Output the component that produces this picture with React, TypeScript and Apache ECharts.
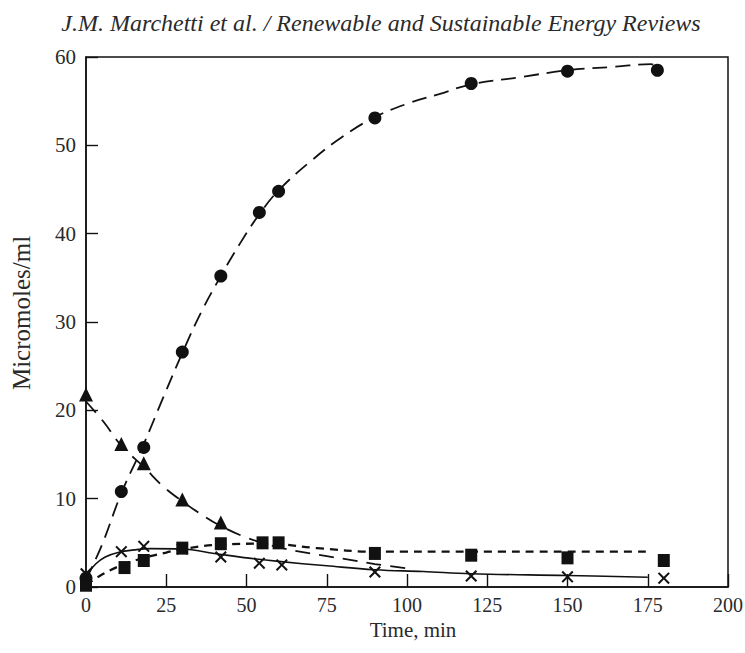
import React, { useEffect, useRef } from "react";
import * as echarts from "echarts";

// Measured points (time in min, micromoles/ml)
const circlePts: [number, number][] = [
  [0, 1.0], [11, 10.8], [18, 15.8], [30, 26.6], [42, 35.2], [54, 42.4],
  [60, 44.8], [90, 53.1], [120, 57.0], [150, 58.4], [178, 58.5],
];
const trianglePts: [number, number][] = [
  [0, 21.8], [11, 16.2], [18, 14.0], [30, 9.9], [42, 7.3],
];
const squarePts: [number, number][] = [
  [0, 0.2], [12, 2.2], [18, 3.0], [30, 4.4], [42, 4.9], [55, 5.0],
  [60, 5.0], [90, 3.8], [120, 3.6], [150, 3.3], [180, 3.0],
];
const crossPts: [number, number][] = [
  [0, 1.5], [11, 4.0], [18, 4.6], [30, 4.3], [42, 3.4], [54, 2.7],
  [61, 2.5], [90, 1.7], [120, 1.25], [150, 1.15], [180, 1.0],
];

// Fitted curves
const circleFit: [number, number][] = [
  [0, 0.8], [5, 4.8], [11, 10.6], [18, 16.2], [24, 21.4], [30, 26.5],
  [36, 31.2], [42, 35.2], [48, 38.9], [54, 42.2], [60, 44.9], [70, 48.2],
  [80, 51.0], [90, 53.2], [100, 54.7], [110, 55.8], [120, 56.9],
  [135, 57.7], [150, 58.5], [165, 58.9], [176, 59.2], [178.5, 58.7],
];
const triangleFit: [number, number][] = [
  [0, 21.0], [5.7, 18.6], [11, 16.0], [18, 13.6], [24, 11.4], [30, 9.7],
  [36, 8.2], [42, 6.9], [50, 5.6], [60, 4.5], [70, 3.8], [80, 3.2],
  [90, 2.6], [100, 2.1],
];
const squareFit: [number, number][] = [
  [0, 0.2], [4, 1.2], [10, 2.3], [18, 3.3], [25, 3.9], [30, 4.3],
  [42, 4.8], [55, 4.9], [60, 4.85], [72, 4.4], [90, 4.0], [120, 4.0],
  [150, 4.0], [176, 4.0],
];
const crossFit: [number, number][] = [
  [0, 1.2], [3, 2.6], [6, 3.4], [10, 3.9], [15, 4.2], [20, 4.35],
  [30, 4.3], [40, 3.8], [50, 3.3], [60, 2.9], [75, 2.4], [90, 1.95],
  [105, 1.75], [120, 1.5], [150, 1.3], [175, 1.1],
];

const xTicks = [0, 25, 50, 75, 100, 125, 150, 175, 200];
const yTicks = [0, 10, 20, 30, 40, 50, 60];

const INK = "#111";
const TXT = "#2a2a2a";
const FONT = "Liberation Serif";
const CROSS =
  "path://M0,1.2 L1.2,0 L5,3.8 L8.8,0 L10,1.2 L6.2,5 L10,8.8 L8.8,10 L5,6.2 L1.2,10 L0,8.8 L3.8,5 Z";

export default function App() {
  const ref = useRef<HTMLDivElement>(null);
  useEffect(() => {
    if (!ref.current) return;
    const chart = echarts.init(ref.current, undefined, { renderer: "svg" });
    const fitLine = (data: [number, number][], type: any, width = 1.8) => ({
      type: "line",
      data,
      smooth: 0.4,
      showSymbol: false,
      symbol: "none",
      silent: true,
      lineStyle: { color: INK, width, type },
      z: 2,
    });
    const marks = (data: [number, number][], symbol: string, size: any) => ({
      type: "scatter",
      data,
      symbol,
      symbolSize: size,
      itemStyle: { color: INK, opacity: 1 },
      z: 3,
    });
    chart.setOption({
      animation: false,
      backgroundColor: "#fff",
      graphic: [
        {
          type: "text",
          x: 381,
          y: 11,
          style: {
            text: "J.M. Marchetti et al. / Renewable and Sustainable Energy Reviews",
            font: `italic 24px "${FONT}"`,
            fill: TXT,
            align: "center",
          },
        },
        {
          type: "text",
          x: 21,
          y: 313,
          rotation: Math.PI / 2,
          style: {
            text: "Micromoles/ml",
            font: `25px "${FONT}"`,
            fill: TXT,
            align: "center",
            verticalAlign: "middle",
          },
        },
      ],
      grid: {
        left: 86,
        right: 17,
        top: 57,
        bottom: 66,
        show: true,
        borderColor: INK,
        borderWidth: 1.5,
        backgroundColor: "transparent",
        outerBoundsMode: "none",
      },
      xAxis: {
        type: "value",
        min: xTicks[0],
        max: xTicks[xTicks.length - 1],
        interval: 25,
        name: "Time, min",
        nameLocation: "middle",
        nameGap: 32,
        nameTextStyle: { fontFamily: FONT, fontSize: 21, color: TXT, padding: [0, 0, 0, 12] },
        axisLine: { show: true, lineStyle: { color: INK, width: 1.5 } },
        axisTick: { show: true, inside: true, length: 13, lineStyle: { color: INK, width: 1.4 } },
        axisLabel: {
          fontFamily: FONT,
          fontSize: 20,
          color: TXT,
          margin: 8,
          overflow: "none",
          showMaxLabel: true,
        },
        splitLine: { show: false },
      },
      yAxis: {
        type: "value",
        min: yTicks[0],
        max: yTicks[yTicks.length - 1],
        interval: 10,
        axisLine: { show: true, lineStyle: { color: INK, width: 1.5 } },
        axisTick: { show: true, inside: true, length: 12, lineStyle: { color: INK, width: 1.4 } },
        axisLabel: { fontFamily: FONT, fontSize: 21, color: TXT, margin: 10 },
        splitLine: { show: false },
      },
      series: [
        fitLine(circleFit, [15, 8]),
        fitLine(triangleFit, [15, 9]),
        fitLine(squareFit, [8, 6], 2.3),
        fitLine(crossFit, "solid", 1.6),
        marks(circlePts, "circle", 13),
        marks(trianglePts, "triangle", 14),
        marks(squarePts, "rect", [12, 13]),
        marks(crossPts, CROSS, 12),
      ],
    });
    return () => chart.dispose();
  }, []);
  return (
    <div
      ref={ref}
      style={{ position: "fixed", left: 0, top: 0, width: 745, height: 653 }}
    />
  );
}
